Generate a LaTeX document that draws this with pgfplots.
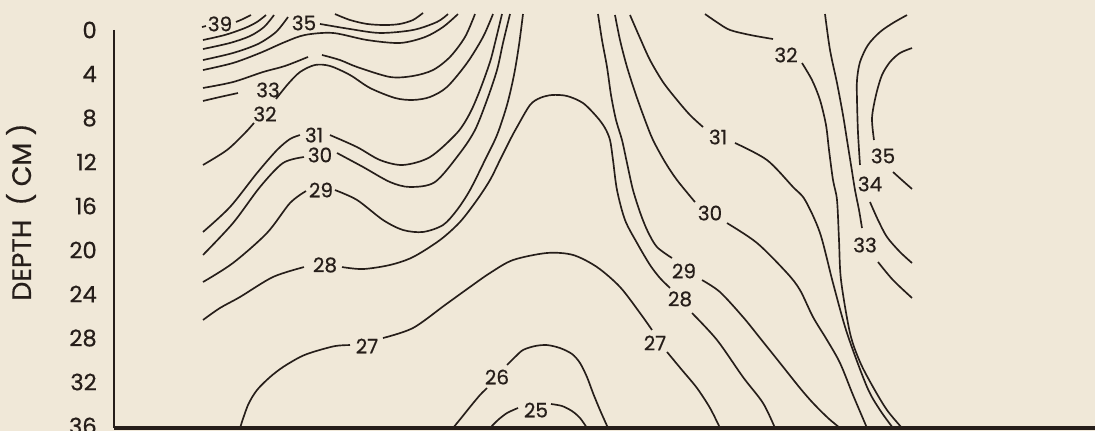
\documentclass[border=0pt]{standalone}
\usepackage{fontspec}
\setmainfont{Poppins}[FakeBold=0.6]
\usepackage{pgfplots}
\pgfplotsset{compat=1.18}
\usetikzlibrary{backgrounds}
\definecolor{paper}{RGB}{240,232,216}
\definecolor{ink}{RGB}{38,30,26}
\tikzset{clab/.style={font=\fontsize{15}{15}\selectfont, text=ink, inner sep=0pt}}

\begin{document}
\begin{tikzpicture}
\begin{axis}[
  scale only axis, width=735.75pt, height=298.5pt,
  xmin=114, xmax=1095, ymin=0, ymax=36.18, y dir=reverse,
  clip=false,
  axis line style={draw=none},
  xtick=\empty,
  ytick={0,4,...,36},
  major tick length=0pt,
  tick style={draw=none},
  yticklabel style={font=\fontsize{17}{17}\selectfont, text=ink, anchor=east, inner sep=0pt, xshift=-12.75pt},
  /pgf/number format/assume math mode=true,
  ylabel={DEPTH\ \ ( CM )},
  ylabel style={font=\fontsize{20}{20}\selectfont, text=ink, at={(axis description cs:-0.0948,0.5427)}, anchor=center},
  every axis plot post/.append style={draw=ink, solid, line width=1.25pt, smooth, mark=none},
]
% frame: left and bottom lines
\draw[ink, line width=1.6pt] (axis cs:114,0) -- (axis cs:114,36.18);
\draw[ink, line width=2.3pt] (axis cs:114,36.18) -- (axis cs:1095,36.18);

% ---- upper left group (39 ... 33)
\addplot coordinates {(202,-0.27) (206,-0.36)};
\addplot coordinates {(236,-0.73) (243,-1.0) (251,-1.36)};
\node[clab] at (axis cs:220,-0.55) {39};
\addplot coordinates {(203,0.91) (225,0.45) (245,-0.18) (257,-0.73) (266,-1.36)};
\addplot coordinates {(203,1.73) (230,1.18) (250,0.55) (264,-0.27) (274,-1.36)};
\addplot coordinates {(203,2.73) (233,2.09) (258,1.27) (276,0.18) (288,-1.18)};
\addplot coordinates {(203,3.64) (233,3.0) (260,2.09) (285,1.09) (305,0.45) (333,0.27) (367,0.91) (400,1.18) (425,0.64) (443,-0.27) (458,-1.45)};
\addplot coordinates {(203,5.27) (233,4.73) (263,3.82) (285,3.27) (308,2.45)};
\addplot coordinates {(322,2.27) (340,2.73) (357,3.36) (390,4.27) (413,4.18) (433,3.64) (450,2.45) (465,0.64) (475,-1.45)};
\addplot coordinates {(203,6.45) (220,6.09) (238,5.73)};
\node[clab] at (axis cs:268,5.45) {33};
\addplot coordinates {(276,6.27) (288,4.91) (300,3.82) (315,3.18) (330,3.27) (350,4.09) (370,5.27) (395,6.18) (413,6.36) (430,6.09) (447,5.18) (467,3.0) (483,0.64) (493,-1.45)};
\addplot coordinates {(203,12.27) (227,10.91) (245,9.36) (254,8.45)};
\node[clab] at (axis cs:265,7.64) {32};
\node[clab] at (axis cs:304,-0.64) {35};
\addplot coordinates {(320,-0.55) (350,-0.09) (380,0.27) (413,0) (437,-0.73) (448,-1.45)};
\addplot coordinates {(335,-1.45) (350,-0.91) (367,-0.55) (385,-0.45) (400,-0.55) (413,-0.91) (423,-1.55)};

% ---- 31, 30, 29 on the left
\addplot coordinates {(203,18.36) (230,16.09) (257,13.0) (277,10.91) (290,9.91) (300,9.55)};
\node[clab] at (axis cs:314,9.55) {31};
\addplot coordinates {(330,9.55) (357,10.64) (380,11.82) (403,12.27) (430,11.55) (457,9.36) (470,7.55) (480,5.45) (490,2.91) (495,1.18) (502,-1.45)};
\addplot coordinates {(203,20.45) (233,17.55) (260,14.27) (283,12.09) (304,11.55)};
\node[clab] at (axis cs:320,11.36) {30};
\addplot coordinates {(337,11.18) (363,12.45) (390,13.82) (410,14.27) (435,13.82) (460,11.18) (475,9.09) (487,6.36) (497,3.64) (503,1.18) (510,-1.45)};
\addplot coordinates {(203,22.91) (233,21.18) (267,18.45) (290,15.73) (306,14.64)};
\node[clab] at (axis cs:321,14.55) {29};
\addplot coordinates {(335,14.55) (357,15.45) (383,17.27) (403,18.18) (423,18.36) (443,17.73) (457,16.36) (470,14.55) (485,11.82) (497,9.55) (507,6.82) (514,4.09) (519,1.36) (523,-1.45)};

% ---- 28 dome
\addplot coordinates {(203,26.36) (220,25.27) (240,24.27) (273,22.45) (304,21.55)};
\node[clab] at (axis cs:325,21.36) {28};
\addplot coordinates {(342,21.55) (363,21.73) (390,21.36) (413,20.64) (440,19.09) (460,17.45) (477,15.45) (490,13.64) (500,11.82) (510,10.0) (517,8.82) (530,6.82) (540,6.18) (552,5.91) (567,6.0) (583,6.64) (597,7.91) (605,8.91) (610,10.0) (613,11.82) (617,14.55) (625,17.27) (637,19.36) (650,21.36) (660,22.55) (670,23.45)};
\node[clab] at (axis cs:680,24.45) {28};
\addplot coordinates {(692,25.73) (717,28.18) (743,31.55) (763,33.91) (775,36.18)};

% ---- right side of the central column
\addplot coordinates {(598,-1.45) (602,0.91) (607,3.36) (611,5.91) (616,8.18) (622,10.0) (627,12.09) (633,14.55) (641,16.82) (648,18.36) (657,19.73) (672,20.73)};
\node[clab] at (axis cs:684,21.91) {29};
\addplot coordinates {(702,22.73) (720,23.82) (743,26.09) (760,28.0) (780,30.27) (800,32.55) (813,33.91) (828,35.27) (840,36.18)};
\addplot coordinates {(615,-1.36) (620,0.91) (627,3.36) (636,5.91) (645,8.18) (653,10.0) (665,12.0) (677,13.64) (695,15.64)};
\node[clab] at (axis cs:710,16.64) {30};
\addplot coordinates {(727,17.55) (757,19.36) (787,22.09) (800,23.64) (813,26.09) (827,28.18) (840,30.27) (853,33.18) (867,36.18)};
\addplot coordinates {(630,-1.36) (640,0.73) (650,2.73) (663,4.73) (677,6.36) (690,7.73) (703,8.82)};
\node[clab] at (axis cs:718,9.73) {31};
\addplot coordinates {(735,10.27) (767,11.82) (793,14.27) (805,15.45) (820,18.45) (833,23.0) (847,27.55) (867,32.45) (880,34.55) (893,36.18)};

% ---- right group (32 ... 35)
\addplot coordinates {(705,-1.45) (718,-0.64) (730,0) (750,0.45) (773,0.82)};
\node[clab] at (axis cs:786,2.27) {32};
\addplot coordinates {(802,3.0) (812,4.55) (820,6.36) (826,8.64) (829,10.91) (833,13.64) (837,15.45) (839,19.09) (841,22.73) (850,27.55) (860,30.18) (873,32.45) (887,34.55) (902,36.18)};
\addplot coordinates {(825,-1.45) (830,1.82) (837,4.82) (843,7.73) (847,10.0) (851,12.27) (855,14.55) (859,16.36) (862,18.0)};
\node[clab] at (axis cs:865,19.55) {33};
\addplot coordinates {(878,21.09) (893,22.73) (912,24.36)};
\addplot coordinates {(907,-1.36) (893,-0.64) (880,0.18) (868,1.36) (860,2.91) (857,4.55) (857,6.36) (858,9.36) (860,12.27)};
\node[clab] at (axis cs:870,14.0) {34};
\addplot coordinates {(870,15.64) (878,17.27) (887,18.82) (900,20.18) (912,21.18)};
\addplot coordinates {(912,1.64) (900,2.09) (890,2.91) (882,4.09) (876,5.91) (872,8.0) (874,10.0)};
\node[clab] at (axis cs:883,11.45) {35};
\addplot coordinates {(893,12.91) (903,13.73) (912,14.45)};

% ---- 27, 26, 25 near the bottom
\addplot coordinates {(240,36.18) (248,34.09) (257,32.73) (270,31.55) (283,30.64) (300,29.73) (313,29.27) (335,28.73) (350,28.64)};
\node[clab] at (axis cs:367,28.73) {27};
\addplot coordinates {(383,28.0) (413,27.09) (445,25.0) (470,23.36) (490,22.09) (513,20.91) (547,20.27) (573,20.45) (597,21.55) (620,23.36) (640,25.73) (652,27.27)};
\node[clab] at (axis cs:655,28.45) {27};
\addplot coordinates {(667,29.27) (682,30.91) (697,32.55) (710,34.36) (720,36.18)};
\addplot coordinates {(453,36.18) (462,35.18) (470,34.27) (480,33.18) (487,32.55)};
\node[clab] at (axis cs:497,31.55) {26};
\addplot coordinates {(507,30.45) (515,29.73) (523,29.09) (535,28.73) (547,28.64) (560,28.91) (572,29.45) (580,30.27) (587,31.55) (593,33.0) (600,34.55) (608,36.18)};
\addplot coordinates {(490,36.18) (498,35.45) (507,34.82) (518,34.36)};
\node[clab] at (axis cs:536,34.55) {25};
\addplot coordinates {(551,34.0) (562,34.18) (572,34.64) (580,35.27) (587,36.18)};

\coordinate (bbsw) at (axis cs:0,36.45);
\coordinate (bbne) at (axis cs:1095,-2.727);
\end{axis}
\begin{scope}[on background layer]
  \fill[paper] (bbsw) rectangle (bbne);
\end{scope}
\pgfresetboundingbox
\path[use as bounding box] (bbsw) rectangle (bbne);
\end{tikzpicture}
\end{document}
